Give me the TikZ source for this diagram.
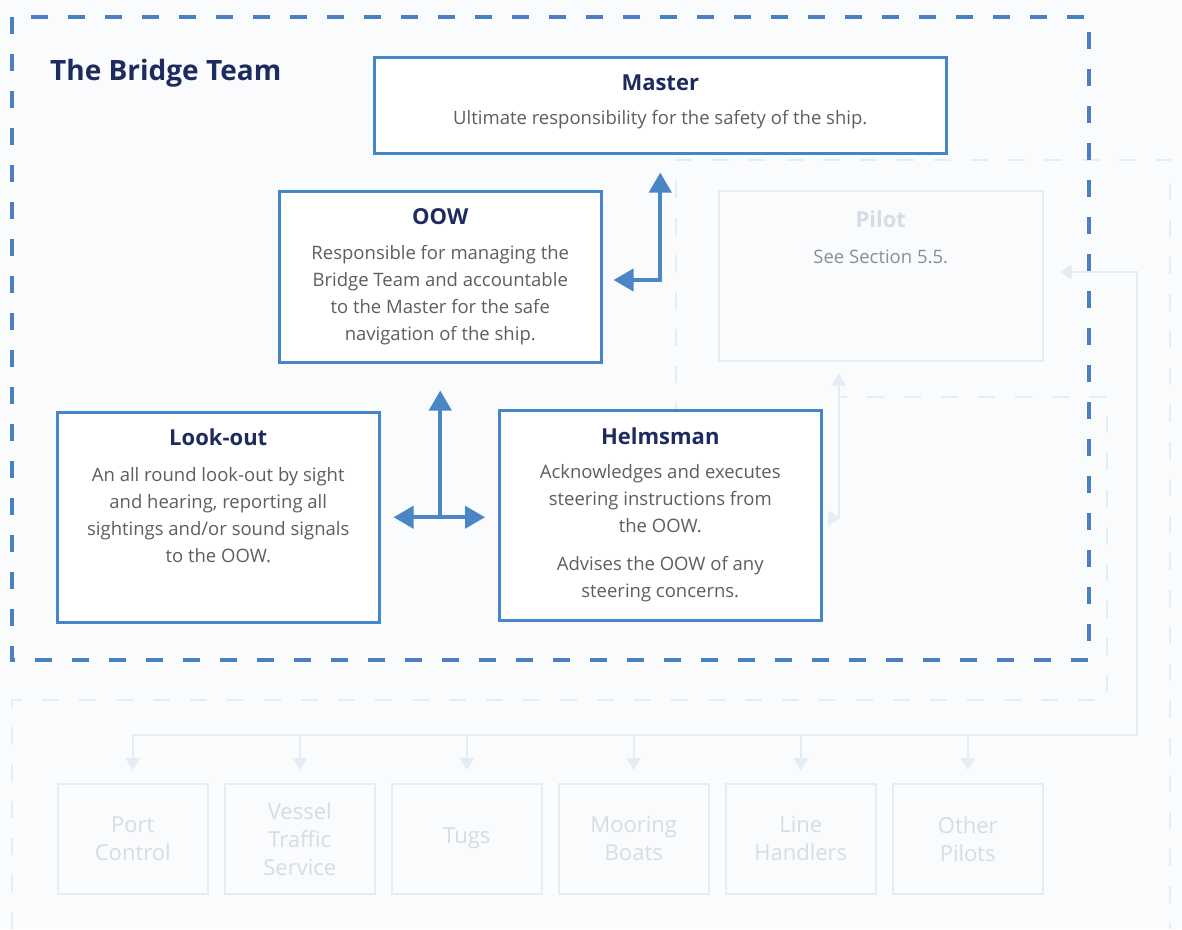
\documentclass[tikz,border=0pt]{standalone}
\usepackage{fontspec}
\setmainfont{Open Sans}
\usetikzlibrary{arrows.meta,positioning}
\definecolor{paper}{HTML}{F9FBFD}
\definecolor{boxblue}{HTML}{4585C9}
\definecolor{linkblue}{HTML}{4A86C6}
\definecolor{dashblue}{HTML}{4A80C2}
\definecolor{navy}{HTML}{1E2B5E}
\definecolor{bodygray}{HTML}{5E5E5E}
\definecolor{ghostline}{HTML}{E4ECF5}
\definecolor{ghosttext}{HTML}{D6DCE6}
\definecolor{pilotgray}{HTML}{8A8F96}
\begin{document}
\begin{tikzpicture}[x=1pt,y=-1pt,
  rolebox/.style={draw=boxblue,line width=2.5pt,fill=white,anchor=north west,inner sep=0pt},
  rolehead/.style={font=\fontsize{22}{26}\selectfont\bfseries,text=navy,inner sep=0pt,anchor=base},
  roletext/.style={font=\fontsize{18.5}{27}\selectfont,text=bodygray,align=center,inner sep=0pt,anchor=north},
  link/.style={draw=linkblue,line width=4pt,{Triangle[width=22pt,length=20pt]}-{Triangle[width=22pt,length=20pt]}},
  ghost/.style={draw=ghostline,line width=2pt},
  ghostbox/.style={draw=ghostline,line width=1.5pt,minimum width=150pt,minimum height=110pt,anchor=north west,
    font=\fontsize{22}{28}\selectfont,text=ghosttext,align=center}]
\fill[paper] (0,0) rectangle (1182,929);
\useasboundingbox (0,0) rectangle (1182,929);
% show-through from the next page
\draw[ghost,dashed,dash pattern=on 17pt off 20pt] (676,420) -- (676,160) -- (1170,160) -- (1170,929);
\draw[ghost,dashed,dash pattern=on 17pt off 20pt] (12,929) -- (12,700) -- (1107,700) -- (1107,397) -- (840,397);
\node[draw=ghostline,line width=1.5pt,minimum width=324pt,minimum height=170pt,anchor=north west] (pilot) at (718,190) {};
\node[font=\fontsize{22}{26}\selectfont\bfseries,text=ghosttext,anchor=base] at ([yshift=-37pt]pilot.north) {Pilot};
\node[font=\fontsize{18.5}{27}\selectfont,text=pilotgray,anchor=base] at ([yshift=-73pt]pilot.north) {See Section 5.5.};
\coordinate (pilotfoot) at ([xshift=-42pt]pilot.south);
\draw[ghost,{Triangle[width=14pt,length=12pt]}-{Triangle[width=14pt,length=12pt]}] ([yshift=-12pt]pilotfoot) |- (840,518);
\coordinate (bus) at (1137,735);
\foreach \i/\lbl in {0/{Port\\Control},1/{Vessel\\Traffic\\Service},2/{Tugs},3/{Mooring\\Boats},4/{Line\\Handlers},5/{Other\\Pilots}}{
  \node[ghostbox] (g\i) at ({57+167*\i},783) {\lbl};
  \draw[ghost,-{Triangle[width=14pt,length=12pt]}] (g\i.north |- bus) -- ([yshift=13pt]g\i.north);
}
\draw[ghost,-{Triangle[width=14pt,length=12pt]}] (g0.north |- bus) -- (bus) |- ([xshift=16pt]pilot.east |- 0,272);
% the bridge team
\draw[dashblue,line width=4pt,dash pattern=on 17pt off 20pt] (12,17) rectangle (1089,660);
\node[font=\fontsize{28}{32}\selectfont\bfseries,text=navy,anchor=base west,inner sep=0pt] (title) at (50,80) {The Bridge Team};
\node[rolebox,minimum width=572pt,minimum height=96pt] (master) at (373,56) {};
\node[rolehead] at ([yshift=-34.5pt]master.north) {Master};
\node[roletext] at ([yshift=-54pt]master.north) {Ultimate responsibility for the safety of the ship.};
\node[rolebox,minimum width=322pt,minimum height=171pt] (oow) at (278,190) {};
\node[rolehead] at ([yshift=-34.5pt]oow.north) {OOW};
\node[roletext] at ([yshift=-55.5pt]oow.north) {Responsible for managing the\\Bridge Team and accountable\\to the Master for the safe\\navigation of the ship.};
\node[rolebox,minimum width=322pt,minimum height=210pt] (lookout) at (56,411) {};
\node[rolehead] at ([yshift=-34.5pt]lookout.north) {Look-out};
\node[roletext] at ([yshift=-56.5pt]lookout.north) {An all round look-out by sight\\and hearing, reporting all\\sightings and/or sound signals\\to the OOW.};
\node[rolebox,minimum width=322pt,minimum height=210pt] (helm) at (498,409) {};
\node[rolehead] at ([yshift=-35.5pt]helm.north) {Helmsman};
\node[roletext] at ([yshift=-55.5pt]helm.north) {Acknowledges and executes\\steering instructions from\\the OOW.\\[11pt]Advises the OOW of any\\steering concerns.};
\draw[link] ([xshift=11pt]oow.east |- 0,280) -| ([yshift=-18pt]master.south);
\coordinate (hub) at (lookout.east -| oow.south);
\draw[link] ([xshift=13pt]lookout.east) -- ([xshift=-13pt]helm.west |- hub);
\draw[link,{Triangle[width=22pt,length=20pt]}-] ([yshift=-27pt]oow.south) -- (hub);
\end{tikzpicture}
\end{document}
